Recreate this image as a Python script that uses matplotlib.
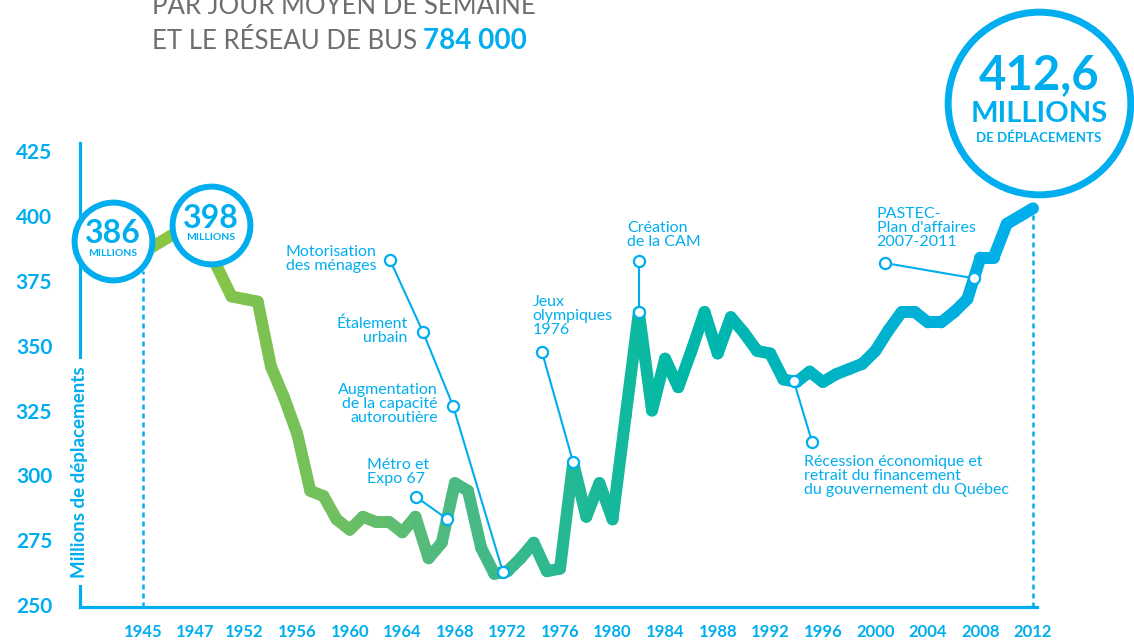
import numpy as np
import matplotlib
matplotlib.use("Agg")
import matplotlib.pyplot as plt
import matplotlib.transforms as mtransforms
from matplotlib.collections import LineCollection
from matplotlib.colors import LinearSegmentedColormap

plt.rcParams['font.family'] = ['Lato', 'DejaVu Sans']

BLUE = '#00AEEF'
GREY = '#6D6E71'

# Annual trips (millions)
years = [1945, 1947] + list(range(1951, 2013))
trips = [386, 398,
         369, 368, 367, 342, 330, 316, 294, 292, 283, 279,
         284, 282, 282, 278, 284, 268, 274, 297, 294, 272,
         262, 263, 268, 274, 263, 264, 305, 284, 297, 283,
         323, 363, 325, 345, 334, 348, 363, 347, 361, 355,
         348, 347, 337, 336, 340, 336, 339, 341, 343, 348,
         356, 363, 363, 359, 359, 363, 368, 384, 384, 397,
         400, 403]

tick_years = [1945, 1947, 1952, 1956, 1960, 1964, 1968, 1972, 1976, 1980,
              1984, 1988, 1992, 1996, 2000, 2004, 2008, 2012]
y_ticks = [250, 275, 300, 325, 350, 375, 400, 425]

# callout texts: (text, (year, value), alignment)
notes = [
    ('Motorisation\ndes ménages', (1962.0, 383.3), 'right'),
    ('Étalement\nurbain', (1964.4, 355.7), 'right'),
    ('Augmentation\nde la capacité\nautoroutière', (1966.7, 327.7), 'right'),
    ('Métro et\nExpo 67', (1961.3, 301.3), 'left'),
    ('Jeux\nolympiques\n1976', (1973.9, 361.5), 'left'),
    ('Création\nde la CAM', (1981.1, 392.7), 'left'),
    ('Récession économique et\nretrait du financement\ndu gouvernement du Québec',
     (1994.6, 299.8), 'left'),
    ("PASTEC-\nPlan d'affaires\n2007-2011", (2000.1, 395.4), 'left'),
]
# leader lines: free anchor points, then the year where they touch the curve
leaders = [
    ([(1963.06, 383.1), (1965.57, 355.3), (1967.86, 326.8)], 1971.66),
    ([(1965.04, 291.7)], 1967.4),
    ([(1974.63, 347.6)], 1977),
    ([(1982.0, 382.7)], 1982),
    ([(1995.18, 312.9)], 1993.8),
    ([(2000.73, 381.9)], 2007.5),
]

# the year axis of the original is not uniform before 1951
KNOT_YEARS = [1900, 1945, 1947, 1951, 2100]
KNOT_POS = [-1027, 143, 195, 231.5, 2189.4]


def fwd(x):
    return np.interp(x, KNOT_YEARS, KNOT_POS)


def inv(p):
    return np.interp(p, KNOT_POS, KNOT_YEARS)


fig = plt.figure(figsize=(11.34, 6.41), dpi=100)
ax = fig.add_axes([80 / 1134, 34 / 641, 957 / 1134, 464 / 641])
ax.set_xscale('function', functions=(fwd, inv))
ax.set_xlim(inv(80), inv(1037))
ax.set_ylim(249.2, 428.2)

for s in ['top', 'right']:
    ax.spines[s].set_visible(False)
for s in ['left', 'bottom']:
    ax.spines[s].set_color(BLUE)
    ax.spines[s].set_linewidth(2.3)

ax.set_xticks(tick_years)
ax.set_xticklabels([str(y) for y in tick_years])
ax.xaxis.set_minor_locator(plt.NullLocator())
ax.set_yticks(y_ticks)
ax.tick_params(length=0, labelcolor=BLUE)
ax.tick_params(axis='y', pad=20, labelsize=15)
ax.tick_params(axis='x', pad=12, labelsize=12)
for lbl in ax.get_xticklabels() + ax.get_yticklabels():
    lbl.set_fontweight('bold')

ax.text(0, 0.291, 'Millions de déplacements', transform=ax.transAxes,
        rotation=90, ha='center', va='center', color=BLUE, fontsize=13.5,
        fontweight='bold', zorder=6,
        bbox=dict(facecolor='white', edgecolor='none', pad=5))

# dotted guides at first and last year
ylo = ax.get_ylim()[0]
ax.vlines(years[0], ylo, 379, color=BLUE, lw=1.8, linestyles=(0, (2, 1.6)), zorder=1)
ax.vlines(years[-1], ylo, trips[-1], color=BLUE, lw=1.8, linestyles=(0, (2, 1.6)), zorder=1)

# gradient line
cmap = LinearSegmentedColormap.from_list('trip', [
    (0.0, '#8CC63F'), (0.2, '#72C05E'), (0.35, '#4BB983'),
    (0.5, '#1DB898'), (0.6, '#00B8A6'), (0.75, '#00B4C0'),
    (0.88, '#00B0D8'), (1.0, '#00AEEF')])
pts = np.column_stack([years, trips])
segs = np.stack([pts[:-1], pts[1:]], axis=1)
mids = (np.array(years[:-1]) + np.array(years[1:])) / 2
cols = cmap((mids - years[0]) / (years[-1] - years[0]))
lc = LineCollection(segs, colors=cols, linewidths=8.6, capstyle='round',
                    joinstyle='round', zorder=2, clip_on=False)
ax.add_collection(lc)

# leaders and callouts
for anchors, hit in leaders:
    path = anchors + [(hit, np.interp(hit, years, trips))]
    xs, ys = zip(*path)
    ax.plot(xs, ys, color=BLUE, lw=1.5, zorder=3)
    ax.plot(xs, ys, 'o', ms=8, mfc='white', mec=BLUE, mew=1.6, zorder=4)

for txt, (x, y), ha in notes:
    ax.text(x, y, txt, ha=ha, va='center', multialignment=ha, color=BLUE,
            fontsize=11.5, linespacing=1.0, zorder=5)


def bubble(i, dx, dy, size, mew, lines):
    tr = mtransforms.offset_copy(ax.transData, fig=fig, x=dx, y=dy, units='dots')
    ax.plot([years[i]], [trips[i]], 'o', ms=size, mfc='white', mec=BLUE, mew=mew,
            transform=tr, clip_on=False, zorder=7)
    for t, fs, ddy in lines:
        trt = mtransforms.offset_copy(ax.transData, fig=fig, x=dx, y=dy + ddy, units='dots')
        ax.text(years[i], trips[i], t, transform=trt, ha='center', va='center',
                color=BLUE, fontsize=fs, fontweight='bold', zorder=8, clip_on=False)


bubble(0, -30, 11.5, 56, 4.3, [('386', 23, 7), ('MILLIONS', 7.5, -13)])
bubble(1, 16, -3.6, 56, 4.3, [('398', 23, 6), ('MILLIONS', 7.5, -13)])
bubble(len(years) - 1, 6, 105, 131.5, 5,
       [('412,6', 34, 28), ('MILLIONS', 21, -10.5), ('DE DÉPLACEMENTS', 9.5, -34.5)])

# header lines, partly cut off in the original
fig.text(152 / 1134, 627 / 641, 'PAR JOUR MOYEN DE SEMAINE', color=GREY,
         fontsize=18.5, va='baseline', ha='left')
t2 = fig.text(152 / 1134, 592 / 641, 'ET LE RÉSEAU DE BUS', color=GREY,
              fontsize=18.5, va='baseline', ha='left')
ax.annotate('784 000', xy=(1, 0), xycoords=t2, xytext=(4, 0),
            textcoords='offset points', color=BLUE, fontsize=20,
            fontweight='bold', va='bottom', ha='left', annotation_clip=False)
fig.savefig('out.png', dpi=100)
